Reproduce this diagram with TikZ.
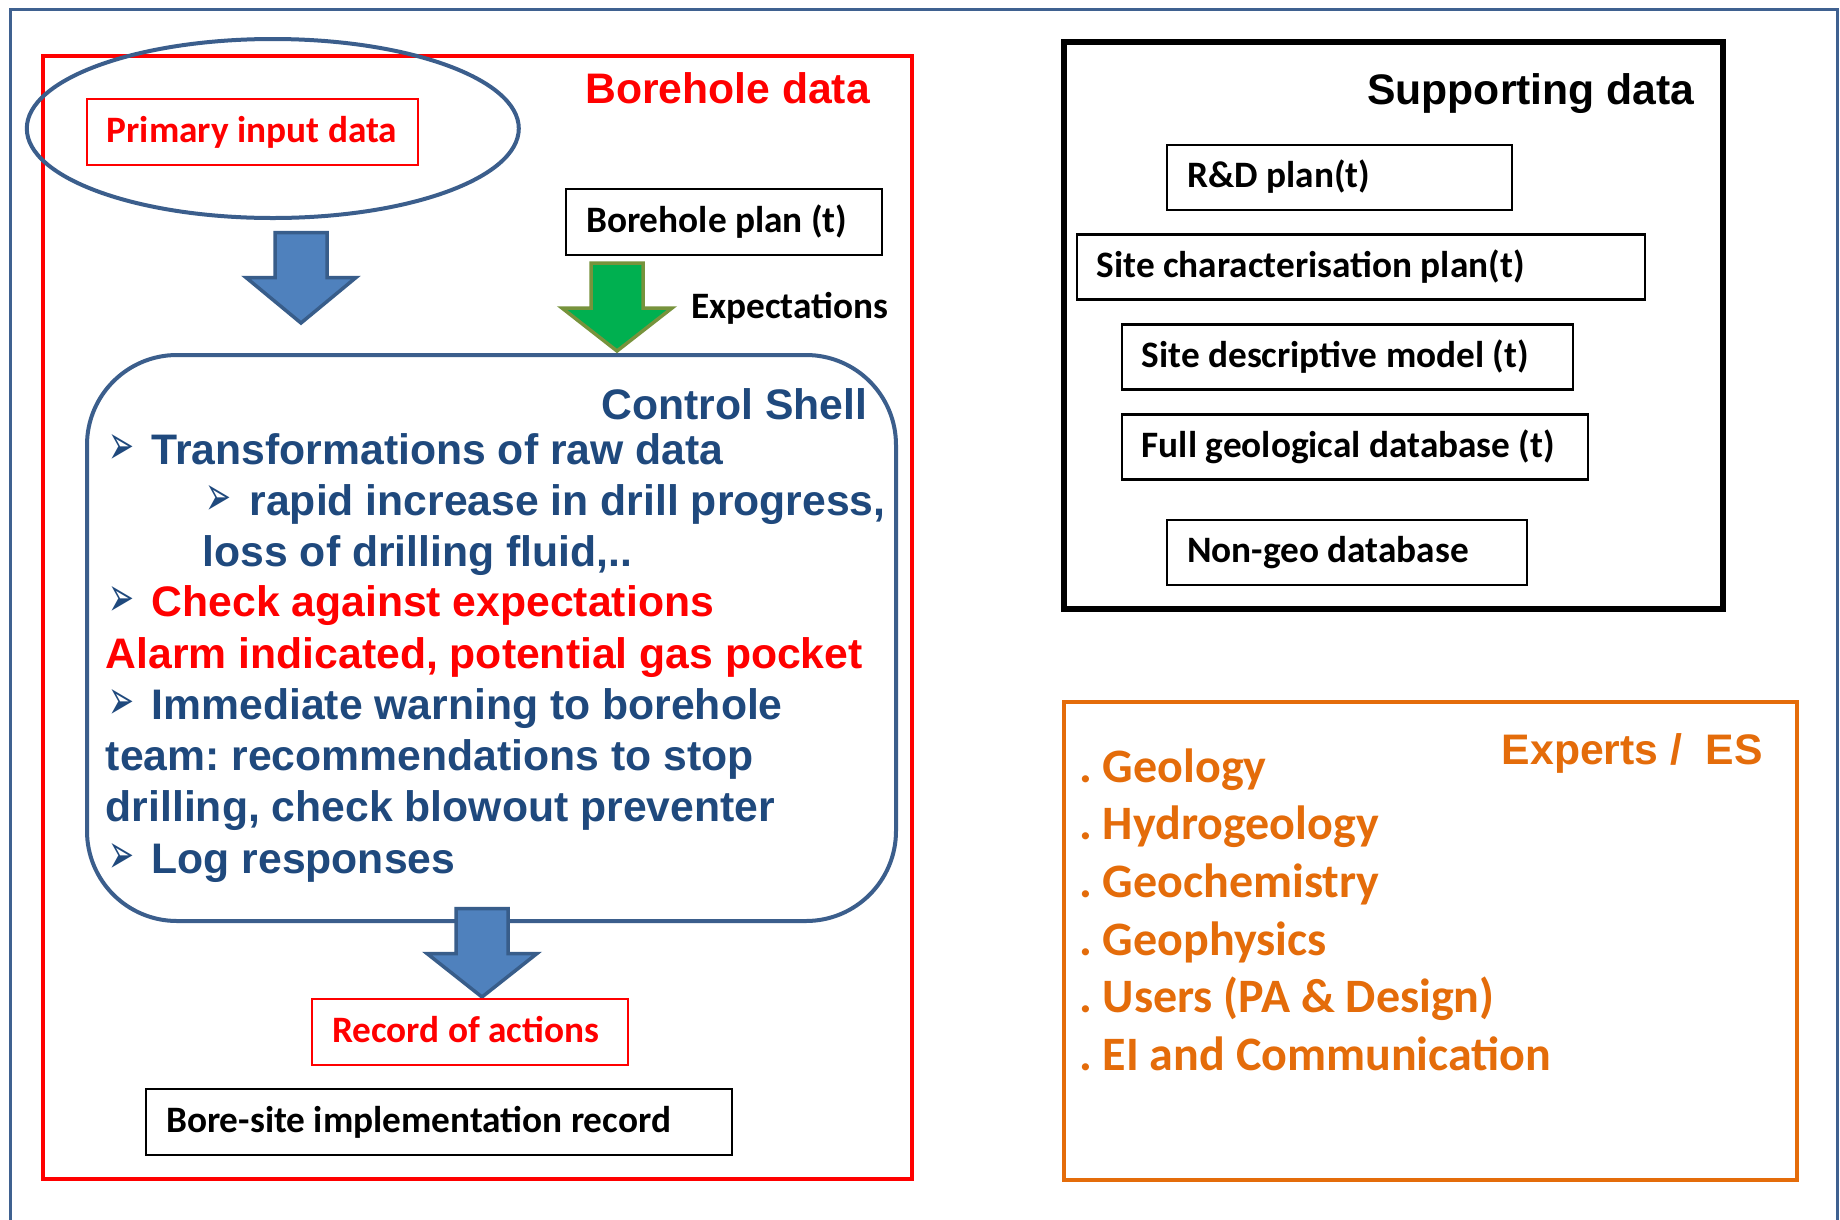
\documentclass[tikz,border=0pt]{standalone}
\usepackage{fontspec}
\newfontfamily\arialf{Liberation Sans}
\newfontfamily\calf{Carlito}
\newfontfamily\djv{DejaVu Sans}
\usetikzlibrary{shapes.geometric}
\definecolor{frameblue}{HTML}{3F6190}
\definecolor{shellblue}{HTML}{3B5E8C}
\definecolor{txtblue}{HTML}{1F497D}
\definecolor{arrfill}{HTML}{4F81BD}
\definecolor{arrdraw}{HTML}{385D8A}
\definecolor{grfill}{HTML}{00B050}
\definecolor{grdraw}{HTML}{77933C}
\definecolor{orng}{HTML}{E46C0A}
\definecolor{redc}{HTML}{FF0000}
\frenchspacing
\newcommand\lb[2]{\makebox[#1][l]{#2}}
\newcommand\bul{\resizebox{26pt}{30pt}{➢}}
\newcommand\blockdown[7]{%
  \draw[#7] (#1-#3,#2) -- (#1+#3,#2) -- (#1+#3,#4) -- (#1+#5,#4) -- (#1,#6) -- (#1-#5,#4) -- (#1-#3,#4) -- cycle;}
\begin{document}
\begin{tikzpicture}[x=1pt,y=-1pt,
  titlefont/.style={font=\arialf\bfseries\fontsize{42.7}{50}\selectfont},
  title/.style={titlefont, anchor=base west, inner sep=0pt},
  shelltxt/.style={titlefont, anchor=base west, inner sep=0pt, text=txtblue},
  redtxt/.style={titlefont, anchor=base west, inner sep=0pt, text=redc},
  bulnode/.style={font=\djv\fontsize{34}{40}\selectfont, anchor=base west, inner sep=0pt, text=txtblue},
  lblfont/.style={font=\calf\bfseries\fontsize{37.3}{42}\selectfont},
  lbox/.style={lblfont, draw, line width=2.3pt, inner xsep=20pt, inner ysep=0pt,
    text height=28pt, text depth=7pt, anchor=north west},
  orlist/.style={font=\calf\bfseries\fontsize{48}{52}\selectfont, text=orng, anchor=base west, inner sep=0pt},
  bluearrow/.style={fill=arrfill, draw=arrdraw, line width=3.5pt, line join=miter},
  greenarrow/.style={fill=grfill, draw=grdraw, line width=3.5pt, line join=miter}
]
\useasboundingbox (0,0) rectangle (1840,1219);
\clip (0,0) rectangle (1840,1219);
\fill[white] (0,0) rectangle (1840,1219);

% outer frame
\draw[frameblue, line width=3pt] (10,1240) -- (10,9.5) -- (1837.5,9.5) -- (1837.5,1240);

% Borehole data box
\node[draw=redc, line width=3.7pt, minimum width=869pt, minimum height=1123pt, anchor=north west, inner sep=0pt] (bh) at (40.8,54) {};
\node[title, text=redc] (bhtitle) at (585,103) {Borehole data};

% ellipse with primary input
\node[draw=shellblue, line width=4pt, ellipse, minimum width=492pt, minimum height=179pt, inner sep=0pt] (ell) at (272.8,128.5) {};
\node[lbox, draw=redc, text=redc, minimum height=66pt] (prim) at (85.7,97.7) {\lb{291pt}{Primary input data}};

% borehole plan
\node[lbox, minimum height=66pt] (bplan) at (565,187.7) {\lb{276pt}{Borehole plan (t)}};
\node[lblfont, anchor=base west, inner sep=0pt] (expect) at (691,318) {Expectations};

% control shell
\node[draw=shellblue, line width=4pt, rounded corners=90pt, minimum width=809pt, minimum height=566pt, inner sep=0pt] (shell) at (491.5,638) {};

% arrows
\blockdown{301}{232.5}{26}{277.5}{55}{323}{bluearrow}
\blockdown{617}{263}{26}{308}{55}{351}{greenarrow}
\blockdown{482}{908.5}{26}{953.5}{55}{997}{bluearrow}

% shell text
\node[shelltxt] (cs) at (601.5,419.3) {Control Shell};
\node[bulnode] (b1) at (108.3,464.3) {\bul};
\node[shelltxt] (l1) at (151.4,464.3) {Transformations of raw data};
\node[bulnode] (b2) at (205,515) {\bul};
\node[shelltxt] (l2) at (249.4,515) {rapid increase in drill progress,};
\node[shelltxt] (l3) at (202.5,566) {loss of drilling fluid,..};
\node[bulnode] (b3) at (108.3,616.7) {\bul};
\node[redtxt] (l4) at (151.4,616.7) {Check against expectations};
\node[redtxt] (l5) at (105.6,668) {Alarm indicated, potential gas pocket};
\node[bulnode] (b4) at (108.3,719) {\bul};
\node[shelltxt] (l6) at (151.4,719) {Immediate warning to borehole};
\node[shelltxt] (l7) at (105.6,770) {team: recommendations to stop};
\node[shelltxt] (l8) at (105.6,821) {drilling, check blowout preventer};
\node[bulnode] (b5) at (108.3,873) {\bul};
\node[shelltxt] (l9) at (151.4,873) {Log responses};

% records
\node[lbox, draw=redc, text=redc, minimum height=66pt] (rec) at (311,998) {\lb{276pt}{Record of actions}};
\node[lbox, minimum height=66pt] (bsite) at (145,1088) {\lb{546pt}{Bore-site implementation record}};

% supporting data
\node[draw, line width=5.5pt, minimum width=659pt, minimum height=567pt, anchor=north west, inner sep=0pt] (sup) at (1061,39) {};
\node[title] (suptitle) at (1367,104.8) {Supporting data};
\node[lbox, minimum height=65pt] (rd) at (1166,143.5) {\lb{305pt}{R\&D plan(t)}};
\node[lbox, minimum height=65pt] (scp) at (1075.7,233.3) {\lb{528pt}{Site characterisation plan(t)}};
\node[lbox, minimum height=65pt] (sdm) at (1120.6,323.4) {\lb{411pt}{Site descriptive model (t)}};
\node[lbox, minimum height=65pt] (fgd) at (1120.6,413.2) {\lb{426pt}{Full geological database (t)}};
\node[lbox, minimum height=65pt] (ngd) at (1166,518.8) {\lb{320pt}{Non-geo database}};

% experts
\node[draw=orng, line width=4pt, minimum width=733pt, minimum height=478pt, anchor=north west, inner sep=0pt] (exp) at (1062,699.5) {};
\node[title, text=orng] (exptitle) at (1501.7,764.2) {Experts /\ \ ES};
\node[orlist] (e1) at (1079,782.4) {. Geology};
\node[orlist] (e2) at (1079,839.8) {. Hydrogeology};
\node[orlist] (e3) at (1079,897.6) {. Geochemistry};
\node[orlist] (e4) at (1079,955) {. Geophysics};
\node[orlist] (e5) at (1079,1012.8) {. Users (PA \& Design)};
\node[orlist] (e6) at (1079,1070.2) {. EI and Communication};
\end{tikzpicture}
\end{document}
